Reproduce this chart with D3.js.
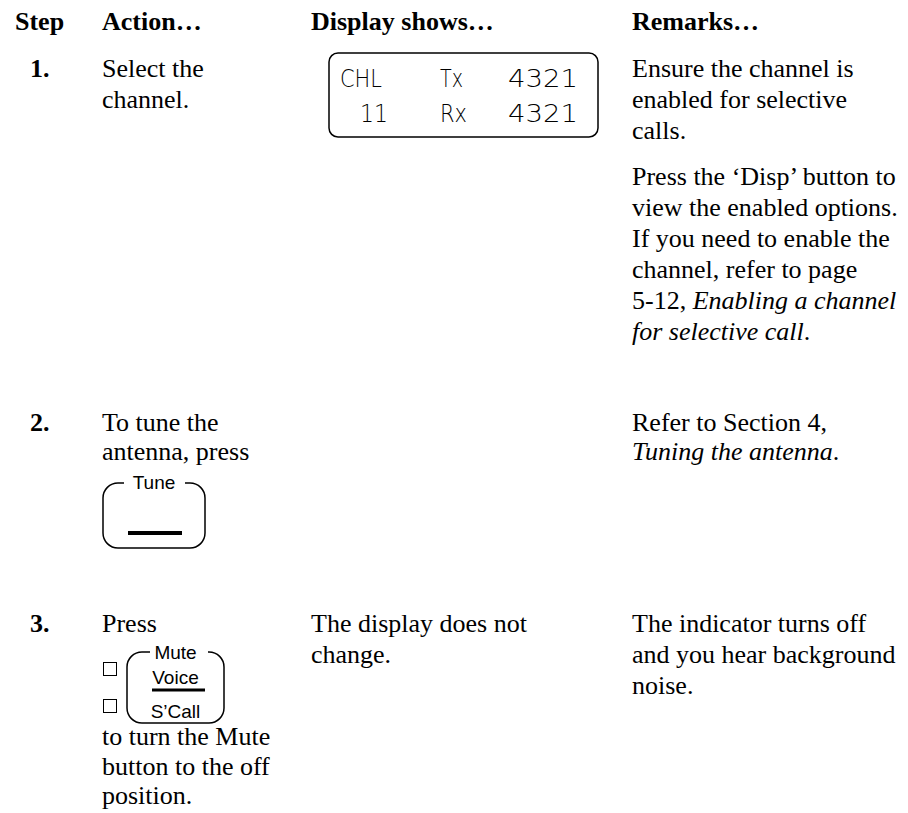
<!DOCTYPE html>
<html>
<head>
<meta charset="utf-8">
<script src="https://cdn.jsdelivr.net/npm/d3@7"></script>
<style>
  html, body { margin: 0; padding: 0; background: #fff; }
  svg { display: block; }
</style>
</head>
<body>
<svg id="page" width="908" height="813"></svg>
<script>
// ---------------- DATA ----------------
const columns = ["Step", "Action…", "Display shows…", "Remarks…"];
const stepNumbers = ["1.", "2.", "3."];

// Action column text (before and after the button graphic)
const actionLines = [
  ["Select the", "channel."],
  ["To tune the", "antenna, press"],
  ["Press"]
];
const actionAfterLines = [
  [],
  [],
  ["to turn the Mute", "button to the off", "position."]
];

// Display column
const lcdRow1 = ["CHL", "Tx", "4321"];
const lcdRow2 = ["11", "Rx", "4321"];
const displayLines = [
  [],
  [],
  ["The display does not", "change."]
];

// Remarks column: paragraphs of lines; each line is a list of [text, italic]
const remarksParagraphs = [
  [
    [
      [["Ensure the channel is", false]],
      [["enabled for selective", false]],
      [["calls.", false]]
    ],
    [
      [["Press the \u2018Disp\u2019 button to", false]],
      [["view the enabled options.", false]],
      [["If you need to enable the", false]],
      [["channel, refer to page", false]],
      [["5-12, ", false], ["Enabling a channel", true]],
      [["for selective call", true], [".", false]]
    ]
  ],
  [
    [
      [["Refer to Section 4,", false]],
      [["Tuning the antenna", true], [".", false]]
    ]
  ],
  [
    [
      [["The indicator turns off", false]],
      [["and you hear background", false]],
      [["noise.", false]]
    ]
  ]
];

// Button labels
const tuneLabels = ["Tune"];
const muteLabels = ["Mute", "Voice", "S\u2019Call"];

// ---------------- LAYOUT ----------------
const svg = d3.select("#page");
const serif = "'Liberation Serif', 'Times New Roman', Times, serif";
const sans = "'Liberation Sans', Arial, Helvetica, sans-serif";
const FS = 26;        // body font size
const LH = 31;        // line height

const colX = d3.scaleOrdinal().domain(columns).range([15, 102, 311, 632]);
const stepX = 30;
// row start baselines
const rowY = d3.scaleOrdinal().domain(stepNumbers).range([77, 431, 632]);
const lineY = (row, i) => rowY(row) + i * LH;

// Header
svg.append("g").selectAll("text").data(columns).join("text")
  .attr("x", d => colX(d)).attr("y", 30)
  .attr("font-family", serif).attr("font-size", FS).attr("font-weight", "bold")
  .text(d => d);

// Step numbers
svg.append("g").selectAll("text").data(stepNumbers).join("text")
  .attr("x", stepX).attr("y", d => rowY(d))
  .attr("font-family", serif).attr("font-size", FS).attr("font-weight", "bold")
  .text(d => d);

// Action / display lines
stepNumbers.forEach((s, r) => {
  const lh = r === 1 ? 29 : LH;
  svg.append("g").selectAll("text").data(actionLines[r]).join("text")
    .attr("x", colX("Action…")).attr("y", (d, i) => rowY(s) + i * lh)
    .attr("font-family", serif).attr("font-size", FS)
    .text(d => d);
  svg.append("g").selectAll("text").data(displayLines[r]).join("text")
    .attr("x", colX("Display shows…")).attr("y", (d, i) => lineY(s, i))
    .attr("font-family", serif).attr("font-size", FS)
    .text(d => d);
});

// Action lines after mute button
const afterStart = 745;
const afterLH = 29.5;
svg.append("g").selectAll("text").data(actionAfterLines[2]).join("text")
  .attr("x", colX("Action…")).attr("y", (d, i) => afterStart + i * afterLH)
  .attr("font-family", serif).attr("font-size", FS)
  .text(d => d);

// Remarks
const paraGap = 15;
stepNumbers.forEach((s, r) => {
  let y = rowY(s);
  const lh = r === 1 ? 29 : LH;
  remarksParagraphs[r].forEach((para, p) => {
    if (p > 0) y += paraGap;
    para.forEach(line => {
      const t = svg.append("text")
        .attr("x", colX("Remarks…")).attr("y", y)
        .attr("font-family", serif).attr("font-size", FS);
      t.selectAll("tspan").data(line).join("tspan")
        .attr("font-style", d => d[1] ? "italic" : "normal")
        .text(d => d[0]);
      y += lh;
    });
  });
});

// ---------------- LCD display ----------------
const lcd = svg.append("g");
const lcdBox = {x0: 329, x1: 598, y0: 53, y1: 137, r: 9};
lcd.append("rect")
  .attr("x", lcdBox.x0).attr("y", lcdBox.y0)
  .attr("width", lcdBox.x1 - lcdBox.x0).attr("height", lcdBox.y1 - lcdBox.y0)
  .attr("rx", lcdBox.r).attr("fill", "none").attr("stroke", "#000").attr("stroke-width", 1.5);
const lcdCellX = [[340, 42], [440, 23], [508, 70]];
const lcdCellX2 = [[360, 28], [440, 27], [508, 70]];
[[lcdRow1, lcdCellX, 87], [lcdRow2, lcdCellX2, 122]].forEach(([row, cells, by]) => {
  lcd.append("g").selectAll("text").data(row).join("text")
    .attr("x", (d, i) => cells[i][0]).attr("y", by)
    .attr("font-family", "'DejaVu Sans', 'Liberation Sans', sans-serif")
    .attr("font-size", 25).attr("font-weight", 200)
    .attr("textLength", (d, i) => cells[i][1])
    .attr("lengthAdjust", "spacingAndGlyphs")
    .text(d => d);
});

// ---------------- Buttons ----------------
function buttonPath(b, gapL, gapR) {
  const p = d3.path();
  p.moveTo(gapL, b.y0);
  p.lineTo(b.x0 + b.r, b.y0);
  p.arcTo(b.x0, b.y0, b.x0, b.y0 + b.r, b.r);
  p.lineTo(b.x0, b.y1 - b.r);
  p.arcTo(b.x0, b.y1, b.x0 + b.r, b.y1, b.r);
  p.lineTo(b.x1 - b.r, b.y1);
  p.arcTo(b.x1, b.y1, b.x1, b.y1 - b.r, b.r);
  p.lineTo(b.x1, b.y0 + b.r);
  p.arcTo(b.x1, b.y0, b.x1 - b.r, b.y0, b.r);
  p.lineTo(gapR, b.y0);
  return p.toString();
}

// Tune
const tune = {x0: 103, x1: 205, y0: 483, y1: 548, r: 15};
const tuneG = svg.append("g");
tuneG.append("path").attr("d", buttonPath(tune, 124, 185))
  .attr("fill", "none").attr("stroke", "#000").attr("stroke-width", 1.5);
tuneG.append("text").attr("x", (tune.x0 + tune.x1) / 2).attr("y", 489)
  .attr("text-anchor", "middle").attr("font-family", sans).attr("font-size", 19)
  .text(tuneLabels[0]);
tuneG.append("line").attr("x1", 128).attr("x2", 182).attr("y1", 533).attr("y2", 533)
  .attr("stroke", "#000").attr("stroke-width", 4);

// Mute
const mute = {x0: 127, x1: 224, y0: 652, y1: 723, r: 15};
const muteG = svg.append("g");
muteG.append("path").attr("d", buttonPath(mute, 150, 208))
  .attr("fill", "none").attr("stroke", "#000").attr("stroke-width", 1.5);
const muteBase = [659, 684, 718];
muteG.selectAll("text").data(muteLabels).join("text")
  .attr("x", (mute.x0 + mute.x1) / 2).attr("y", (d, i) => muteBase[i])
  .attr("text-anchor", "middle").attr("font-family", sans).attr("font-size", 19)
  .text(d => d);
muteG.append("line").attr("x1", 152).attr("x2", 205).attr("y1", 690).attr("y2", 690)
  .attr("stroke", "#000").attr("stroke-width", 3);
muteG.selectAll("rect").data([662, 699]).join("rect")
  .attr("x", 103.5).attr("y", d => d + 0.5).attr("width", 13).attr("height", 13)
  .attr("fill", "none").attr("stroke", "#000").attr("stroke-width", 1);
</script>
</body>
</html>
